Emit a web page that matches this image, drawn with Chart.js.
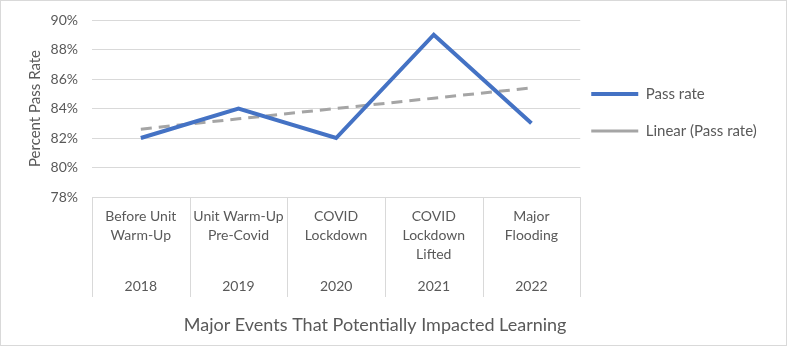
<!DOCTYPE html>
<html lang="en">
<head>
  <meta charset="UTF-8">
  <title>Pass Rate</title>
  <script src="https://cdn.jsdelivr.net/npm/chart.js"></script>
  <style>
    html, body { margin: 0; padding: 0; background: #fff; }
    #wrap { width: 787px; height: 346px; box-sizing: border-box; border: 1px solid #d9d9d9; }
  </style>
</head>
<body>
  <div id="wrap"><canvas id="chart" width="785" height="344"></canvas></div>

  <script>
    const events = [
      ['Before Unit', 'Warm-Up'],
      ['Unit Warm-Up', 'Pre-Covid'],
      ['COVID', 'Lockdown'],
      ['COVID', 'Lockdown', 'Lifted'],
      ['Major', 'Flooding']
    ];
    const years = ['2018', '2019', '2020', '2021', '2022'];
    const passRate = [82, 84, 82, 89, 83];
    const linearTrend = [82.6, 83.3, 84.0, 84.7, 85.4];
    const xTitle = 'Major Events That Potentially Impacted Learning';

    const textColor = '#595959';
    const gridColor = '#d9d9d9';
    const fontFamily = 'Lato, "Open Sans", sans-serif';

    // dividers under the plot, year row and axis title, like Excel's multi-level category axis
    const categoryRows = {
      id: 'categoryRows',
      afterDraw(chart) {
        const ctx = chart.ctx;
        const x = chart.scales.x;
        const area = chart.chartArea;
        const step = (area.right - area.left) / years.length;
        const top = area.bottom;
        ctx.save();
        ctx.strokeStyle = gridColor;
        ctx.lineWidth = 1;
        for (let i = 0; i <= years.length; i++) {
          const px = Math.round(area.left + step * i) + 0.5;
          ctx.beginPath();
          ctx.moveTo(px, top);
          ctx.lineTo(px, top + 100);
          ctx.stroke();
        }
        ctx.fillStyle = textColor;
        ctx.font = '14px ' + fontFamily;
        ctx.textAlign = 'center';
        ctx.textBaseline = 'middle';
        years.forEach((y, i) => {
          ctx.fillText(y, x.getPixelForValue(i), top + 89);
        });
        // excel centres this title a bit right of the plot centre
        ctx.font = '18px ' + fontFamily;
        ctx.fillText(xTitle, (area.left + area.right) / 2 + 39, top + 128);
        ctx.restore();
      }
    };

    // legend sits a bit closer to the plot and slightly lower than chart.js puts it
    const legendNudge = {
      id: 'legendNudge',
      afterLayout(chart) {
        const lg = chart.legend;
        lg.left -= 11;
        lg.top += 4; lg.bottom += 4;
      }
    };

    new Chart(document.getElementById('chart'), {
      type: 'line',
      data: {
        labels: events,
        datasets: [
          {
            label: 'Pass rate',
            data: passRate,
            borderColor: '#4472c4',
            backgroundColor: '#4472c4',
            borderWidth: 4,
            pointRadius: 0,
            tension: 0
          },
          {
            label: 'Linear (Pass rate)',
            data: linearTrend,
            borderColor: '#a5a5a5',
            backgroundColor: '#a5a5a5',
            borderWidth: 3,
            borderDash: [11, 7],
            pointRadius: 0,
            tension: 0
          }
        ]
      },
      options: {
        responsive: false,
        animation: false,
        layout: { padding: { left: 25, top: 19, right: 21, bottom: 5 } },
        plugins: {
          tooltip: { enabled: false },
          legend: {
            position: 'right',
            fullSize: false,
            labels: {
              usePointStyle: true,
              pointStyle: 'line',
              pointStyleWidth: 47,
              padding: 22,
              color: textColor,
              font: { family: fontFamily, size: 15 }
            }
          }
        },
        scales: {
          x: {
            offset: true,
            grid: { display: false, drawTicks: false },
            border: { display: false },
            afterFit: s => { s.height = 143; },
            ticks: {
              color: textColor,
              padding: 10,
              maxRotation: 0,
              autoSkip: false,
              font: { family: fontFamily, size: 14, lineHeight: '19px' }
            }
          },
          y: {
            min: 78,
            max: 90,
            // invisible tick marks give the label gap without padding the top of the plot
            grid: { color: gridColor, drawTicks: true, tickLength: 14, tickColor: 'rgba(0,0,0,0)' },
            border: { display: false },
            afterFit: s => { s.width = 66; },
            ticks: {
              stepSize: 2,
              padding: 0,
              color: textColor,
              font: { family: fontFamily, size: 14 },
              callback: v => v + '%'
            },
            title: {
              display: true,
              text: 'Percent Pass Rate',
              color: textColor,
              font: { family: fontFamily, size: 15 },
              padding: { top: 0, bottom: 0 }
            }
          }
        }
      },
      plugins: [categoryRows, legendNudge]
    });
  </script>
</body>
</html>
